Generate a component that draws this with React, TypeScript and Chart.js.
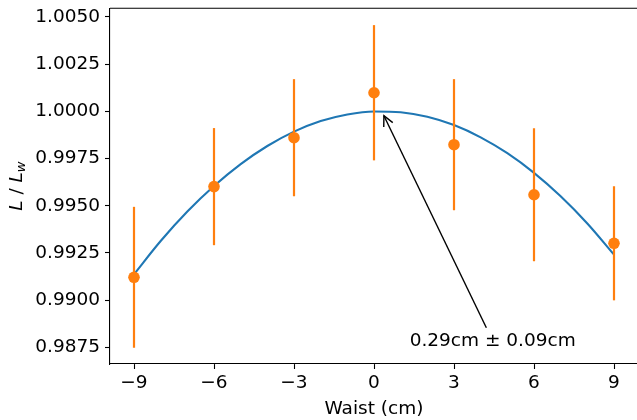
import React, { useEffect, useRef } from "react";
import { Chart, registerables } from "chart.js";

Chart.register(...registerables);

// ---- data ----
const WAIST_CM = [-9, -6, -3, 0, 3, 6, 9];
const RATIO = [0.99121, 0.99601, 0.9986, 1.00098, 0.99823, 0.99558, 0.99301];
const RATIO_ERR = [0.00373, 0.0031, 0.0031, 0.00358, 0.00347, 0.00352, 0.00302];

const FIT_X = [-9, -8, -7, -6, -5, -4, -3, -2, -1, 0, 1, 2, 3, 4, 5, 6, 7, 8, 9];
const FIT_Y = [
  0.99137, 0.99313, 0.99469, 0.99604, 0.9972, 0.99816, 0.99892, 0.99948, 0.99983,
  0.99999, 0.99995, 0.99971, 0.99927, 0.99862, 0.99778, 0.99674, 0.9955, 0.99406, 0.99241,
];

const X_TICKS = [-9, -6, -3, 0, 3, 6, 9];
const Y_TICKS = [0.9875, 0.99, 0.9925, 0.995, 0.9975, 1.0, 1.0025, 1.005];
const X_MIN = -9.9;
const X_MAX = 9.9;
const Y_MIN = 0.98662;
const Y_MAX = 1.00545;

const PEAK_X = 0.29;
const PEAK_Y = 1.0;
const ANNOT_TEXT = "0.29cm \u00b1 0.09cm";
const ANNOT_X = 4.45;
const ANNOT_Y = 0.98785;

const X_TITLE = "Waist (cm)";

const BLUE = "#1f77b4";
const ORANGE = "#ff7f0e";
const FONT = '"DejaVu Sans"';
const FS = 18.5;

const fmtX = (v: number) => (v < 0 ? "\u2212" + Math.abs(v) : String(v));

const customPlugin = {
  id: "customDraw",
  beforeDatasetDraw(chart: any, args: any) {
    if (args.index !== 1) return;
    const { ctx } = chart;
    const x = chart.scales.x;
    const y = chart.scales.y;
    ctx.save();
    ctx.strokeStyle = ORANGE;
    ctx.lineWidth = 2.2;
    WAIST_CM.forEach((wx, i) => {
      const px = x.getPixelForValue(wx);
      ctx.beginPath();
      ctx.moveTo(px, y.getPixelForValue(RATIO[i] - RATIO_ERR[i]));
      ctx.lineTo(px, y.getPixelForValue(RATIO[i] + RATIO_ERR[i]));
      ctx.stroke();
    });
    ctx.restore();
  },
  afterDraw(chart: any) {
    const { ctx, chartArea: a } = chart;
    const x = chart.scales.x;
    const y = chart.scales.y;
    ctx.save();
    // top spine (right spine lies just outside the visible window)
    ctx.strokeStyle = "#000";
    ctx.lineWidth = 1.1;
    ctx.beginPath();
    ctx.moveTo(a.left, a.top);
    ctx.lineTo(a.right, a.top);
    ctx.stroke();

    // annotation
    const tx = x.getPixelForValue(ANNOT_X);
    const ty = y.getPixelForValue(ANNOT_Y);
    const px = x.getPixelForValue(PEAK_X);
    const py = y.getPixelForValue(PEAK_Y);
    const dx = px - tx;
    const dy = py - ty;
    const len = Math.hypot(dx, dy);
    const ux = dx / len;
    const uy = dy / len;
    const sx = tx + ux * 14.5;
    const sy = ty + uy * 14.5;
    const ex = px - ux * 5;
    const ey = py - uy * 5;
    ctx.strokeStyle = "#000";
    ctx.lineWidth = 1.4;
    ctx.beginPath();
    ctx.moveTo(sx, sy);
    ctx.lineTo(ex, ey);
    ctx.stroke();
    const hl = 10;
    const hw = 5;
    const bx = ex - ux * hl;
    const by = ey - uy * hl;
    ctx.beginPath();
    ctx.moveTo(bx - uy * hw, by + ux * hw);
    ctx.lineTo(ex, ey);
    ctx.lineTo(bx + uy * hw, by - ux * hw);
    ctx.stroke();

    ctx.fillStyle = "#000";
    ctx.font = `${FS}px ${FONT}`;
    ctx.textAlign = "center";
    ctx.textBaseline = "middle";
    ctx.fillText(ANNOT_TEXT, tx, ty);

    // x title
    ctx.fillText(X_TITLE, (a.left + a.right) / 2, 409);

    // y title: L / L_w
    ctx.translate(17, (a.top + a.bottom) / 2);
    ctx.rotate(-Math.PI / 2);
    const it = `italic ${FS}px ${FONT}`;
    const rg = `${FS}px ${FONT}`;
    const sb = `italic ${Math.round(FS * 0.7)}px ${FONT}`;
    const parts: [string, string, number][] = [
      ["L", it, 0],
      [" / ", rg, 0],
      ["L", it, 0],
      ["w", sb, 4.5],
    ];
    let total = 0;
    parts.forEach(([t, f]) => {
      ctx.font = f;
      total += ctx.measureText(t).width;
    });
    let cx = -total / 2;
    ctx.textAlign = "left";
    parts.forEach(([t, f, off]) => {
      ctx.font = f;
      ctx.fillText(t, cx, off);
      cx += ctx.measureText(t).width;
    });
    ctx.restore();
  },
};

export default function App() {
  const ref = useRef<HTMLCanvasElement | null>(null);
  useEffect(() => {
    document.body.style.margin = "0";
    const canvas = ref.current;
    if (!canvas) return;
    const chart = new Chart(canvas, {
      type: "scatter",
      data: {
        datasets: [
          {
            label: "fit",
            data: FIT_X.map((v, i) => ({ x: v, y: FIT_Y[i] })),
            showLine: true,
            borderColor: BLUE,
            borderWidth: 2.1,
            pointRadius: 0,
            cubicInterpolationMode: "monotone",
            order: 2,
          } as any,
          {
            label: "data",
            data: WAIST_CM.map((v, i) => ({ x: v, y: RATIO[i] })),
            showLine: false,
            backgroundColor: ORANGE,
            borderColor: ORANGE,
            borderWidth: 0,
            pointRadius: 5.8,
            order: 1,
          } as any,
        ],
      },
      options: {
        animation: false,
        responsive: false,
        devicePixelRatio: 1,
        layout: { padding: { left: 0, top: 8.3, right: 7, bottom: 0 } },
        plugins: { legend: { display: false }, tooltip: { enabled: false } },
        scales: {
          x: {
            type: "linear",
            min: X_MIN,
            max: X_MAX,
            afterBuildTicks: (s: any) => {
              s.ticks = X_TICKS.map((v) => ({ value: v }));
            },
            afterFit: (s: any) => {
              s.height = 56;
              s.paddingLeft = 0;
              s.paddingRight = 0;
            },
            grid: {
              display: true,
              drawOnChartArea: false,
              drawTicks: true,
              tickLength: 5,
              tickWidth: 1.1,
              tickColor: "#000",
            },
            border: { display: true, color: "#000", width: 1.1 },
            ticks: {
              color: "#000",
              font: { family: FONT, size: FS },
              padding: 3,
              maxRotation: 0,
              autoSkip: false,
              callback: (v: any) => fmtX(Number(v)),
            },
          },
          y: {
            type: "linear",
            min: Y_MIN,
            max: Y_MAX,
            afterBuildTicks: (s: any) => {
              s.ticks = Y_TICKS.map((v) => ({ value: v }));
            },
            afterFit: (s: any) => {
              s.width = 110;
              s.paddingTop = 0;
              s.paddingBottom = 0;
            },
            grid: {
              display: true,
              drawOnChartArea: false,
              drawTicks: true,
              tickLength: 5,
              tickWidth: 1.1,
              tickColor: "#000",
            },
            border: { display: true, color: "#000", width: 1.1 },
            ticks: {
              color: "#000",
              font: { family: FONT, size: FS },
              padding: 5,
              autoSkip: false,
              callback: (v: any) => Number(v).toFixed(4),
            },
          },
        },
      },
      plugins: [customPlugin],
    });
    return () => chart.destroy();
  }, []);
  return (
    <div
      style={{
        position: "absolute",
        left: 0,
        top: 0,
        width: 637,
        height: 420,
        overflow: "hidden",
        background: "#fff",
      }}
    >
      <canvas ref={ref} width={645} height={420} style={{ display: "block", width: 645, height: 420 }} />
    </div>
  );
}
